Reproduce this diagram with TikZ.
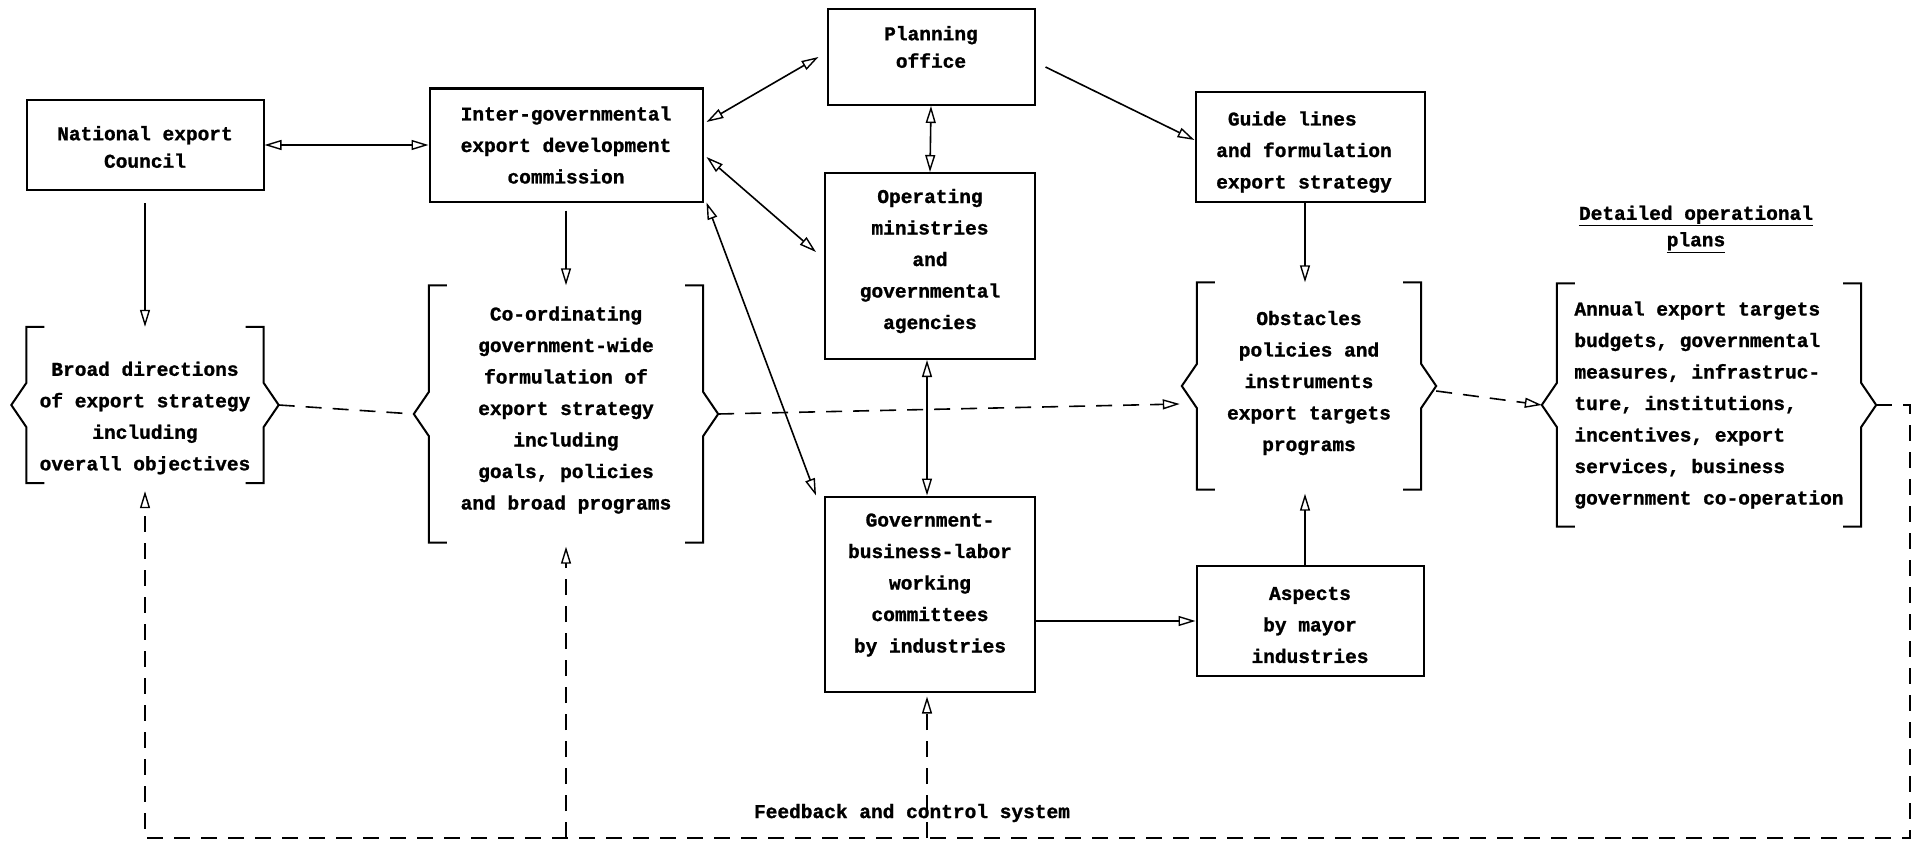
\documentclass[tikz,border=0pt]{standalone}
\usepackage{fontspec}
\setmonofont{Liberation Mono}[BoldFeatures={FakeBold=1.2}]
\usetikzlibrary{arrows.meta,calc}
\newcommand\bracebox[1]{%
  \draw[boxline] ([xshift=18pt]#1.north west) -- (#1.north west) -- ([yshift=22pt]#1.west) -- ([xshift=-15pt]#1.west) -- ([yshift=-22pt]#1.west) -- (#1.south west) -- ([xshift=18pt]#1.south west);
  \draw[boxline] ([xshift=-18pt]#1.north east) -- (#1.north east) -- ([yshift=22pt]#1.east) -- ([xshift=15pt]#1.east) -- ([yshift=-22pt]#1.east) -- (#1.south east) -- ([xshift=-18pt]#1.south east);
  \coordinate (#1-l) at ([xshift=-15pt]#1.west);
  \coordinate (#1-r) at ([xshift=15pt]#1.east);
}
\begin{document}
\begin{tikzpicture}[x=1pt,y=-1pt,
  every node/.style={font=\ttfamily\bfseries\fontsize{19.5}{31.5}\selectfont, align=center, inner sep=0pt},
  every label/.style={font=\ttfamily\bfseries\fontsize{19.5}{31.5}\selectfont, align=center, inner sep=0pt},
  boxline/.style={line width=2pt},
  sbox/.style={draw, line width=2pt},
  conn/.style={line width=1.6pt},
  fb/.style={line width=1.6pt, dash pattern=on 16pt off 11pt},
  >={Triangle[open,length=17pt,width=10pt,line width=1.4pt]}]
\useasboundingbox (0,0) rectangle (1920,843);

% solid boxes
\node[sbox, minimum width=237pt, minimum height=90pt,
  label={[name=nat-t, yshift=-2pt]center:{National export\\[-4pt]Council}}] (nat) at (145,145) {};
\node[sbox, minimum width=273pt, minimum height=113pt,
  label={[name=inter-t]center:{Inter-governmental\\export development\\commission}}] (inter) at (566,145) {};
\node[sbox, minimum width=207pt, minimum height=96pt,
  label={[name=plan-t, yshift=10pt]center:{Planning\\[-4pt]office}}] (plan) at (931,57) {};
\node[sbox, minimum width=210pt, minimum height=186pt,
  label={[name=oper-t, yshift=5pt]center:{Operating\\ministries\\and\\governmental\\agencies}}] (oper) at (930,266) {};
\node[sbox, minimum width=229pt, minimum height=110pt,
  label={[name=guide-t, align=left, xshift=-6pt, yshift=-5pt]center:{\ Guide lines\\and formulation\\export strategy}}] (guide) at (1310,147) {};
\node[sbox, minimum width=210pt, minimum height=195pt,
  label={[name=gov-t, yshift=9pt]center:{Government-\\business-labor\\working\\committees\\by industries}}] (gov) at (930,594) {};
\node[sbox, minimum width=227pt, minimum height=110pt,
  label={[name=asp-t, yshift=-4pt]center:{Aspects\\by mayor\\industries}}] (asp) at (1310,621) {};

% bracket boxes
\node[minimum width=237pt, minimum height=156pt,
  label={[name=broad-t, yshift=-13pt]center:{Broad directions\\of export strategy\\including\\overall objectives}}] (broad) at (145,405) {};
\node[minimum width=274pt, minimum height=257pt,
  label={[name=coord-t, yshift=4pt]center:{Co-ordinating\\government-wide\\formulation of\\export strategy\\including\\goals, policies\\and broad programs}}] (coord) at (566,414) {};
\node[minimum width=224pt, minimum height=207pt,
  label={[name=obst-t, yshift=3pt]center:{Obstacles\\policies and\\instruments\\export targets\\programs}}] (obst) at (1309,386) {};
\node[minimum width=304pt, minimum height=243pt,
  label={[name=annual-t, align=left]center:{Annual export targets\\budgets, governmental\\measures, infrastruc-\\ture, institutions,\\incentives, export\\services, business\\government co-operation}}] (annual) at (1709,405) {};
\bracebox{broad}
\bracebox{coord}
\bracebox{obst}
\bracebox{annual}

\node (det) at (1696,229) {\underline{Detailed operational}\\[-5pt]\underline{plans}};
\node (fbl) at (912,813) {Feedback and control system};

% solid connectors
\draw[conn,<->] (nat.east) -- (inter.west);
\draw[conn,->,shorten <=12pt] (nat.south) -- (broad.north);
\draw[conn,->,shorten <=8pt] (inter.south) -- (coord.north);
\draw[conn,<->] ([shift={(3pt,23pt)}]inter.east) -- ([xshift=-8pt]plan.west);
\draw[conn,<->] ([shift={(3pt,-12pt)}]inter.east) -- ([shift={(-8pt,14pt)}]oper.west);
\draw[conn,<->] ([xshift=3pt]inter.south east) -- ([xshift=-8pt]gov.north west);
\draw[conn,<->] (plan.south) -- (oper.north);
\draw[conn,<->] ([xshift=-3pt]oper.south) -- ([xshift=-3pt]gov.north);
\draw[conn,->] ([shift={(10pt,-10pt)}]plan.east) -- ([yshift=7pt]guide.west);
\draw[conn,->] ([xshift=-5pt]guide.south) -- ([xshift=-4pt]obst.north);
\draw[conn,->] ([xshift=-5pt]asp.north) -- ([shift={(-4pt,-4pt)}]obst.south);
\draw[conn,->] (gov.east |- asp.west) -- (asp.west);

% dashed connectors
\coordinate (fbR) at (1910,838);
\draw[fb] (broad-r) -- (coord-l);
\draw[fb,->] (coord-r) -- ([shift={(-17pt,-18pt)}]obst.west);
\draw[fb,->] ([yshift=-5pt]obst-r) -- (annual-l);
\draw[fb,->] (annual-r) -- (annual-r -| fbR) -- (fbR) -- (broad.south |- fbR) -- ([yshift=-8pt]broad.south);
\draw[fb,->] (coord.south |- fbR) -- ([yshift=-4pt]coord.south);
\draw[fb,->] ([xshift=-3pt]gov.south |- fbR) -- ([shift={(-3pt,-4pt)}]gov.south);
\end{tikzpicture}
\end{document}
